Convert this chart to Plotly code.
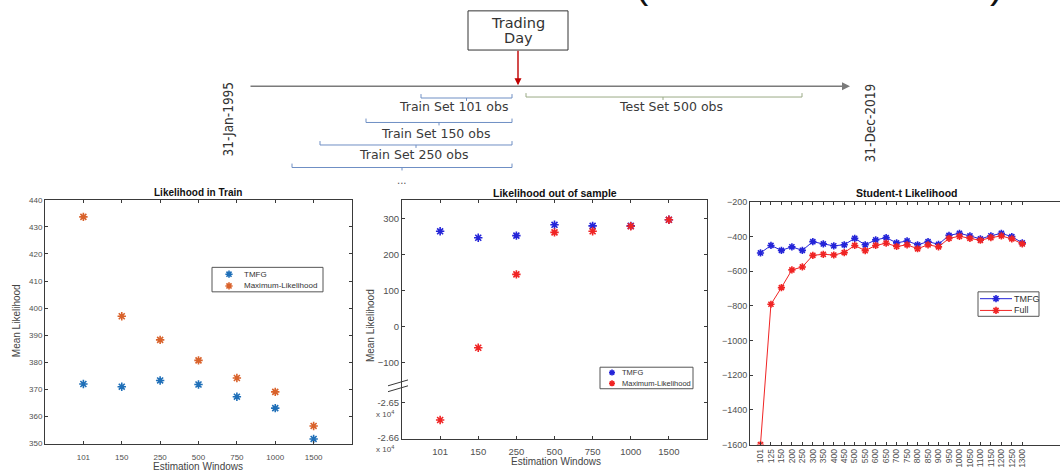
import plotly.graph_objects as go

W, H = 1060, 475


def X(px):
    return px / W


def Y(py):
    return 1 - py / H


# ---------------- data ----------------
windows = ["101", "150", "250", "500", "750", "1000", "1500"]

train_tmfg = [372.0, 371.0, 373.3, 371.8, 367.3, 363.1, 351.7]
train_ml = [433.7, 397.0, 388.3, 380.7, 374.2, 369.1, 356.5]

oos_tmfg = [265, 247, 253, 283, 280, 280, 297]
oos_ml = [-26549, -59, 145, 262, 265, 279, 297]

t_windows = ["101", "125", "150", "200", "250", "300", "350", "400", "450", "500",
             "550", "600", "650", "700", "750", "800", "850", "900", "950", "1000",
             "1050", "1100", "1150", "1200", "1250", "1300"]
t_tmfg = [-495, -452, -480, -460, -480, -430, -443, -454, -448, -411,
          -448, -420, -407, -437, -426, -448, -430, -445, -394, -382,
          -397, -414, -396, -382, -401, -437]
t_full = [-1600, -791, -695, -593, -576, -509, -503, -507, -493, -452,
          -482, -452, -439, -458, -448, -471, -448, -460, -411, -399,
          -411, -422, -407, -397, -414, -443]

train_sets = [101, 150, 250]
test_set = 500

# ---------------- styles ----------------
AX_COL = "#3a3a3a"
TICK_FONT_COL = "#505050"
MATLAB_BLUE = "#1f6fb8"
MATLAB_ORANGE = "#d9622b"
BLUE = "#2424d8"
RED = "#f02424"
SANS = "Liberation Sans, Arial, sans-serif"
DIAG = "DejaVu Sans, Verdana, sans-serif"
NARROW = "Liberation Sans Narrow, DejaVu Sans Condensed, sans-serif"


def star(color, size=7):
    return dict(symbol="asterisk-open", size=size, color=color,
                line=dict(width=1.6, color=color))


fig = go.Figure()

# Panel 1: likelihood in train
fig.add_trace(go.Scatter(x=windows, y=train_tmfg, mode="markers", name="TMFG",
                         marker=star(MATLAB_BLUE), xaxis="x", yaxis="y"))
fig.add_trace(go.Scatter(x=windows, y=train_ml, mode="markers", name="Maximum-Likelihood",
                         marker=star(MATLAB_ORANGE), xaxis="x", yaxis="y"))

# Panel 2: out of sample, broken axis (upper and lower parts)
fig.add_trace(go.Scatter(x=windows, y=oos_tmfg, mode="markers", name="TMFG",
                         marker=star(BLUE), xaxis="x2", yaxis="y2"))
fig.add_trace(go.Scatter(x=windows, y=oos_ml, mode="markers", name="Maximum-Likelihood",
                         marker=star(RED), xaxis="x2", yaxis="y2"))
fig.add_trace(go.Scatter(x=windows, y=oos_ml, mode="markers", name="Maximum-Likelihood",
                         marker=star(RED), xaxis="x3", yaxis="y3"))

# Panel 3: Student-t likelihood
fig.add_trace(go.Scatter(x=t_windows, y=t_tmfg, mode="lines+markers", name="TMFG",
                         line=dict(color=BLUE, width=1), marker=star(BLUE, 6),
                         xaxis="x4", yaxis="y4"))
fig.add_trace(go.Scatter(x=t_windows, y=t_full, mode="lines+markers", name="Full",
                         line=dict(color=RED, width=1), marker=star(RED, 6),
                         xaxis="x4", yaxis="y4"))


def xax(dom, size, **kw):
    d = dict(domain=[X(dom[0]), X(dom[1])], type="category", showline=True,
             linecolor=AX_COL, linewidth=1, ticks="inside", ticklen=3,
             tickcolor=AX_COL, showgrid=False, zeroline=False,
             tickfont=dict(family=SANS, size=size, color=TICK_FONT_COL))
    d.update(kw)
    return d


def yax(dom, size, **kw):
    d = dict(domain=[Y(dom[1]), Y(dom[0])], showline=True, linecolor=AX_COL,
             linewidth=1, ticks="inside", ticklen=3, tickcolor=AX_COL,
             showgrid=False, zeroline=False, mirror="ticks",
             tickfont=dict(family=SANS, size=size, color=TICK_FONT_COL))
    d.update(kw)
    return d


fig.update_layout(
    width=W, height=H,
    margin=dict(l=0, r=0, t=0, b=0),
    paper_bgcolor="white", plot_bgcolor="rgba(0,0,0,0)",
    showlegend=False,
    xaxis=xax([45, 352], 8, anchor="y", range=[-1, 7], mirror="ticks",
              ticklabelstandoff=6),
    yaxis=yax([199, 448], 8, anchor="x", range=[350, 440], dtick=10),
    xaxis2=xax([402, 707], 9.5, anchor="y2", range=[-1, 7], side="top",
               showticklabels=False),
    yaxis2=yax([199, 389], 9.5, anchor="x2", range=[-165, 352.6],
               tickvals=[-100, 0, 100, 200, 300]),
    xaxis3=xax([402, 707], 9.5, anchor="y3", range=[-1, 7], matches="x2",
               ticklabelstandoff=4),
    yaxis3=yax([389, 443], 9.5, anchor="x3", range=[-26602, -26452],
               tickvals=[-26500, -26600], ticktext=["-2.65", "-2.66"]),
    xaxis4=xax([750, 1060], 8.5, anchor="y4", range=[-1, 28.6], tickangle=-90,
               mirror="ticks"),
    yaxis4=yax([201, 449], 9, anchor="x4", range=[-1600, -200], dtick=200,
               mirror=False),
    # full-page pixel frame used for the legend keys
    xaxis5=dict(domain=[0, 1], range=[0, W], visible=False, anchor="y5",
                fixedrange=True),
    yaxis5=dict(domain=[0, 1], range=[H, 0], visible=False, anchor="x5",
                fixedrange=True),
)

ann = []
shapes = []


def text(px, py, s, size, family=SANS, color="#222222", bold=False, angle=0,
         xanchor="center", yanchor="middle"):
    ann.append(dict(x=X(px), y=Y(py), xref="paper", yref="paper", text=s,
                    showarrow=False, textangle=angle, xanchor=xanchor,
                    yanchor=yanchor,
                    font=dict(family=family, size=size, color=color,
                              weight="bold" if bold else "normal")))


def arrow(x_head, y_head, x_tail, y_tail, color, width):
    ann.append(dict(x=X(x_head), y=Y(y_head), xref="paper", yref="paper",
                    ax=x_tail - x_head, ay=y_tail - y_head, text="",
                    showarrow=True, arrowhead=2, arrowsize=1, arrowwidth=width,
                    arrowcolor=color))


def legend_box(box, entries, size, key_x, text_x, line_half=0, msize=6):
    x0, x1, y0, y1 = box
    shapes.append(dict(type="rect", xref="paper", yref="paper", x0=X(x0), x1=X(x1),
                       y0=Y(y1), y1=Y(y0), line=dict(color="#555555", width=1)))
    for name, color, ky in entries:
        if line_half:
            fig.add_trace(go.Scatter(x=[key_x - line_half, key_x + line_half],
                                     y=[ky, ky], mode="lines", hoverinfo="skip",
                                     line=dict(color=color, width=1),
                                     xaxis="x5", yaxis="y5"))
        fig.add_trace(go.Scatter(x=[key_x], y=[ky], mode="markers", hoverinfo="skip",
                                 marker=star(color, msize), xaxis="x5", yaxis="y5"))
        text(text_x, ky, name, size, color="#333333", xanchor="left")


legend_box((212, 323, 268, 293), [("TMFG", MATLAB_BLUE, 275),
                                  ("Maximum-Likelihood", MATLAB_ORANGE, 287)],
           8, 229, 242)
legend_box((600, 693, 370, 392), [("TMFG", BLUE, 375.5),
                                  ("Maximum-Likelihood", RED, 386.5)],
           7.5, 612, 620, msize=5)
legend_box((978, 1039, 293, 318), [("TMFG", BLUE, 300), ("Full", RED, 312)],
           9, 996, 1012, line_half=16)

# panel titles and axis titles
text(198, 192, "Likelihood in Train", 10, bold=True, color="#111111")
text(555, 192, "Likelihood out of sample", 10.5, bold=True, color="#111111")
text(907, 192, "Student-t Likelihood", 10.5, bold=True, color="#111111")
text(16, 323, "Mean Likelihood", 10, angle=-90, color="#444444")
text(370, 328, "Mean Likelihood", 10, angle=-90, color="#444444")
text(198, 471, "Estimation Windows", 10, color="#444444")
text(556, 466, "Estimation Windows", 10, color="#444444")

# exponent notes under the lower-axis ticks
for v in [-26500, -26600]:
    ann.append(dict(x=X(396), y=v, xref="paper", yref="y3", yshift=-11,
                    text="x 10<sup>4</sup>", showarrow=False, xanchor="right",
                    font=dict(family=SANS, size=8, color=TICK_FONT_COL)))

# axis break marks
for dy in (0, 6):
    shapes.append(dict(type="line", xref="paper", yref="paper",
                       x0=X(388), y0=Y(389 + dy), x1=X(408), y1=Y(383 + dy),
                       line=dict(color=AX_COL, width=1)))

# ---------------- timeline diagram ----------------
TL_Y = 83
arrow(850, TL_Y, 249, TL_Y, "#7a7a7a", 1.6)

shapes.append(dict(type="rect", xref="paper", yref="paper", x0=X(468), x1=X(568),
                   y0=Y(46), y1=Y(6), line=dict(color="#333333", width=1),
                   fillcolor="white"))
text(518, 18, "Trading", 14.5, family=DIAG, color="#333333")
text(518, 34, "Day", 14.5, family=DIAG, color="#333333")
arrow(518, TL_Y - 1, 518, 46, "#c00000", 1.4)

text(228, 117, "31-Jan-1995", 13.5, family=NARROW, angle=-90, color="#333333")
text(870, 121, "31-Dec-2019", 13.5, family=NARROW, angle=-90, color="#333333")


def bracket(x0, x1, y, color, mid=None):
    mid = (x0 + x1) / 2 if mid is None else mid
    path = (f"M {X(x0)} {Y(y - 4)} L {X(x0)} {Y(y)} L {X(x1)} {Y(y)} L {X(x1)} {Y(y - 4)} "
            f"M {X(mid)} {Y(y)} L {X(mid)} {Y(y + 3)}")
    shapes.append(dict(type="path", xref="paper", yref="paper", path=path,
                       line=dict(color=color, width=1)))


TRAIN_COL = "#6f8fc4"
train_brackets = [(421, 95, 453, 104), (366, 120, 435, 131), (320, 143, 413, 153)]
for n, (x0, yb, lx, ly) in zip(train_sets, train_brackets):
    bracket(x0, 512, yb, TRAIN_COL)
    text(lx, ly, f"Train Set {n} obs", 12.5, family=DIAG, color="#3a3a3a")
bracket(292, 512, 166, TRAIN_COL)
text(402, 179, "...", 10, family=DIAG, color="#555555")

bracket(526, 802, 94, "#9aaa86", mid=663)
text(671, 104, f"Test Set {test_set} obs", 12.5, family=DIAG, color="#3a3a3a")

# lower tips of the caption's parentheses, which run off the top edge
text(642, -21, "(", 40, family=SANS, color="#111111")
text(996, -21, ")", 40, family=SANS, color="#111111")

fig.update_layout(annotations=ann, shapes=shapes)

fig.write_html("out.html")
